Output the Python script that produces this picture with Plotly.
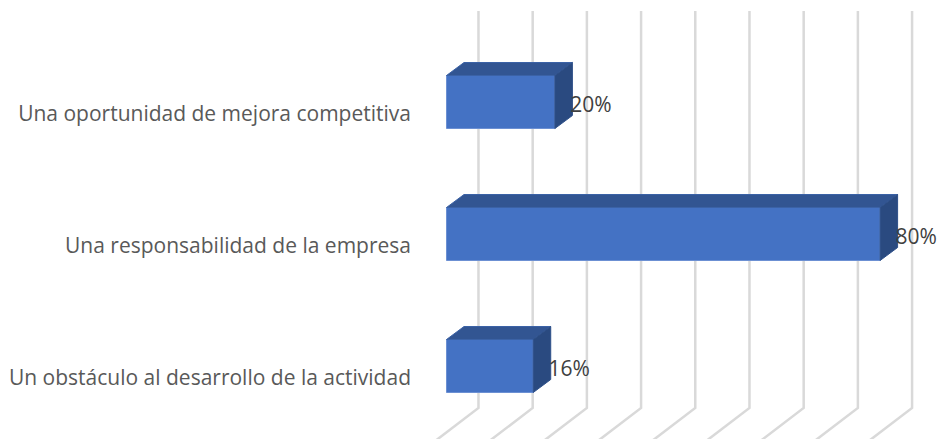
import plotly.graph_objects as go

categories = ["Una oportunidad de mejora competitiva",
              "Una responsabilidad de la empresa",
              "Un obstáculo al desarrollo de la actividad"]
values = [20, 80, 16]
grid_values = [5.9 + 10 * k for k in range(9)]

W, H = 938, 439
LEFT = 412
PX_X = 5.42    # pixels per percent
ZERO_X = 446.5
PX_Y = 132     # pixels per row
ROW0_Y = 102
BAR_PX = 53
DX, DY = 17.5, 13

dx = DX / PX_X
dy = DY / PX_Y
half = BAR_PX / PX_Y / 2
rows = list(range(len(categories)))

fig = go.Figure()

# front faces
fig.add_trace(go.Bar(
    y=rows, x=values, orientation="h", width=BAR_PX / PX_Y, base=0,
    marker=dict(color="#4472C4", line=dict(color="#6C90D3", width=1)),
    hoverinfo="skip", showlegend=False))

# top and side faces
for r, v in zip(rows, values):
    fig.add_trace(go.Scatter(
        x=[0, dx, v + dx, v, 0], y=[r - half, r - half - dy, r - half - dy, r - half, r - half],
        mode="lines", fill="toself", fillcolor="#325592", line=dict(color="#3B62A6", width=1),
        hoverinfo="skip", showlegend=False, cliponaxis=False))
    fig.add_trace(go.Scatter(
        x=[v, v + dx, v + dx, v, v], y=[r - half, r - half - dy, r + half - dy, r + half, r - half],
        mode="lines", fill="toself", fillcolor="#2A4A80", line=dict(color="#2E5089", width=1),
        hoverinfo="skip", showlegend=False, cliponaxis=False))

# data labels
fig.add_trace(go.Scatter(
    x=[v + dx - 0.4 for v in values], y=[r + 5 / PX_Y for r in rows],
    mode="text", text=[f"{v}%" for v in values], textposition="middle right",
    textfont=dict(family="Open Sans", size=21, color="#404040"),
    hoverinfo="skip", showlegend=False, cliponaxis=False))

# gridlines: back wall plus the floor running to the picture's lower edge
TOP_Y = (11 - ROW0_Y) / PX_Y
TURN_Y = (408 - ROW0_Y) / PX_Y
BOT_Y = (440 - ROW0_Y) / PX_Y
FLOOR_DX = 42 / PX_X
shapes = [dict(type="path", xref="x", yref="y", layer="below",
               path=f"M {g},{TOP_Y} L {g},{TURN_Y} L {g - FLOOR_DX},{BOT_Y}",
               line=dict(color="#D9D9D9", width=2.5))
          for g in grid_values]

fig.update_layout(
    width=W, height=H, autosize=False,
    margin=dict(l=LEFT, r=0, t=0, b=0, pad=0),
    paper_bgcolor="white", plot_bgcolor="white",
    shapes=shapes, showlegend=False,
    xaxis=dict(range=[(LEFT - ZERO_X) / PX_X, (W - ZERO_X) / PX_X],
               visible=False, fixedrange=True),
    yaxis=dict(range=[(H - ROW0_Y) / PX_Y, -ROW0_Y / PX_Y],
               tickmode="array", tickvals=[r + 11.5 / PX_Y for r in rows], ticktext=categories,
               ticks="", showgrid=False, zeroline=False, showline=False,
               ticklabelstandoff=0,
               tickfont=dict(family="Open Sans", size=21, color="#595959"),
               fixedrange=True),
)

fig.write_html("out.html", config=dict(displayModeBar=False),
               post_script="document.body.style.margin='0';document.body.style.overflow='hidden';")
